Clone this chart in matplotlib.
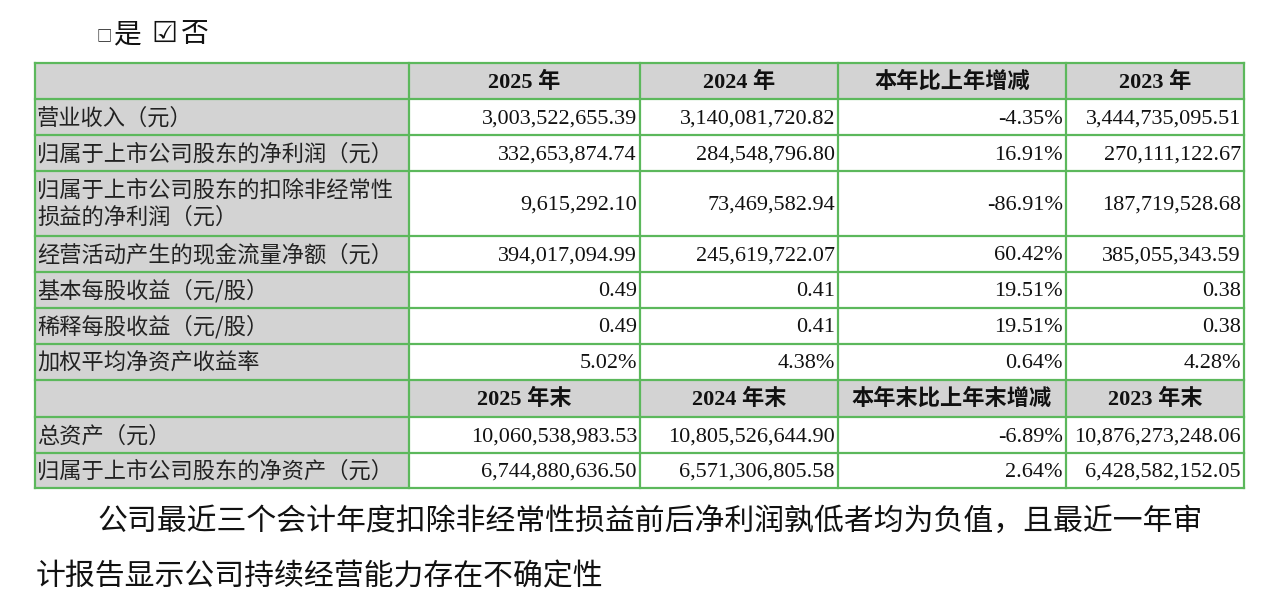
import matplotlib
matplotlib.use("Agg")
import matplotlib.pyplot as plt
from matplotlib.patches import Rectangle

# ---------------- data ----------------
row_labels = [
    "营业收入（元）",
    "归属于上市公司股东的净利润（元）",
    "归属于上市公司股东的扣除非经常性\n损益的净利润（元）",
    "经营活动产生的现金流量净额（元）",
    "基本每股收益（元/股）",
    "稀释每股收益（元/股）",
    "加权平均净资产收益率",
]
header_flow = ["2025 年", "2024 年", "本年比上年增减", "2023 年"]
val_2025 = [3003522655.39, 332653874.74, 9615292.10, 394017094.99, 0.49, 0.49, 5.02]
val_2024 = [3140081720.82, 284548796.80, 73469582.94, 245619722.07, 0.41, 0.41, 4.38]
chg_flow = [-4.35, 16.91, -86.91, 60.42, 19.51, 19.51, 0.64]
val_2023 = [3444735095.51, 270111122.67, 187719528.68, 385055343.59, 0.38, 0.38, 4.28]
row_kind = ["money", "money", "money", "money", "num", "num", "pct"]

stock_labels = ["总资产（元）", "归属于上市公司股东的净资产（元）"]
header_stock = ["2025 年末", "2024 年末", "本年末比上年末增减", "2023 年末"]
stock_2025 = [10060538983.53, 6744880636.50]
stock_2024 = [10805526644.90, 6571306805.58]
chg_stock = [-6.89, 2.64]
stock_2023 = [10876273248.06, 6428582152.05]

top_line = ["□", "是", "☑", "否"]
footnote = ["公司最近三个会计年度扣除非经常性损益前后净利润孰低者均为负值，且最近一年审",
            "计报告显示公司持续经营能力存在不确定性"]

# ---------------- layout ----------------
col_x = [35, 409, 640, 838, 1066, 1244]
row_y = [63, 99, 135, 171, 236, 272, 308, 344, 380, 417, 453, 488]
GREEN = "#5CB85C"
GRAY = "#D3D3D3"
CJK = ["Noto Sans CJK SC", "DejaVu Sans"]
NUM = ["Liberation Serif", "Noto Sans CJK SC", "DejaVu Sans"]
FS = 16


def fmt(v, kind):
    if kind == "money":
        return f"{v:,.2f}"
    if kind == "pct":
        return f"{v:.2f}%"
    return f"{v:.2f}"


fig = plt.figure(figsize=(12.68, 6.0), dpi=100)
ax = fig.add_axes([0, 0, 1, 1])
ax.set_xlim(0, 1268)
ax.set_ylim(600, 0)
ax.axis("off")

# top check line
ax.text(97, 36, top_line[0], fontsize=11, family=CJK, va="center", ha="left", color="#111")
ax.text(113, 34, top_line[1], fontsize=20, family=CJK, va="center", ha="left", color="#111")
ax.text(151, 34, top_line[2], fontsize=21, family=["DejaVu Sans"], va="center", ha="left", color="#111")
ax.text(181, 34, top_line[3], fontsize=20, family=CJK, va="center", ha="left", color="#111")

n_rows = len(row_y) - 1
header_rows = [0, 1 + len(row_labels)]

# fills
for r in range(n_rows):
    y0, y1 = row_y[r], row_y[r + 1]
    if r in header_rows:
        ax.add_patch(Rectangle((col_x[0], y0), col_x[-1] - col_x[0], y1 - y0,
                               facecolor=GRAY, edgecolor="none", zorder=1))
    else:
        ax.add_patch(Rectangle((col_x[0], y0), col_x[1] - col_x[0], y1 - y0,
                               facecolor=GRAY, edgecolor="none", zorder=1))

# grid lines
for y in row_y:
    ax.plot([col_x[0], col_x[-1]], [y, y], color=GREEN, lw=1.6, zorder=3, solid_capstyle="projecting")
for x in col_x:
    ax.plot([x, x], [row_y[0], row_y[-1]], color=GREEN, lw=1.6, zorder=3, solid_capstyle="projecting")


def yc(r):
    return (row_y[r] + row_y[r + 1]) / 2


def header(r, items):
    for c, t in enumerate(items):
        xm = (col_x[c + 1] + col_x[c + 2]) / 2
        ax.text(xm, yc(r) + 1, t, fontsize=FS, family=NUM, fontweight="bold",
                ha="center", va="center", color="#111", zorder=4)


def label(r, t):
    lines = t.split("\n")
    if len(lines) == 1:
        ax.text(col_x[0] + 2, yc(r) + 1, t, fontsize=FS, family=CJK, ha="left", va="center",
                color="#222", zorder=4)
    else:
        ax.text(col_x[0] + 2, yc(r) - 13, lines[0], fontsize=FS, family=CJK, ha="left",
                va="center", color="#222", zorder=4)
        ax.text(col_x[0] + 2, yc(r) + 14, lines[1], fontsize=FS, family=CJK, ha="left",
                va="center", color="#222", zorder=4)


def values(r, vals):
    for c, s in enumerate(vals):
        ax.text(col_x[c + 2] - 3, yc(r) + 2, s, fontsize=FS, family=NUM, ha="right",
                va="center", color="#111", zorder=4)


header(0, header_flow)
for i, lab in enumerate(row_labels):
    r = i + 1
    label(r, lab)
    k = row_kind[i]
    values(r, [fmt(val_2025[i], k), fmt(val_2024[i], k), fmt(chg_flow[i], "pct"), fmt(val_2023[i], k)])

hr = header_rows[1]
header(hr, header_stock)
for i, lab in enumerate(stock_labels):
    r = hr + 1 + i
    label(r, lab)
    values(r, [fmt(stock_2025[i], "money"), fmt(stock_2024[i], "money"),
               fmt(chg_stock[i], "pct"), fmt(stock_2023[i], "money")])

# footnote paragraph
ax.text(97, 521, footnote[0], fontsize=21.5, family=CJK, ha="left", va="center", color="#111")
ax.text(36, 577, footnote[1], fontsize=21.5, family=CJK, ha="left", va="center", color="#111")

fig.savefig("out.png", dpi=100)
